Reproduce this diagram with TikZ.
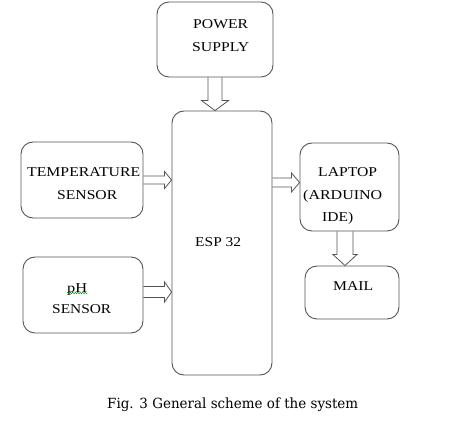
\documentclass[tikz,border=0pt]{standalone}
\usepackage{fontspec}
\setmainfont{Liberation Serif}
\newfontfamily\capfont{DejaVu Serif}
\usepackage{graphicx}
\usetikzlibrary{calc,decorations.pathmorphing}
\definecolor{edge}{HTML}{555555}
\newcommand{\fw}[2]{\resizebox{#1pt}{\height}{#2}}
\tikzset{
  box/.style={draw=edge, line width=0.9pt, rounded corners=12pt, rectangle, inner sep=0pt},
  txt/.style={anchor=base west, inner sep=0pt, font=\fontsize{13.5}{15}\selectfont},
  harrow/.style n args={3}{draw=edge, line width=0.8pt, to path={let \p1=(\tikztostart), \p2=(\tikztotarget) in
     (\x1,\y1+#1pt) -- (\x2-#3pt,\y1+#1pt) -- (\x2-#3pt,\y1+#2pt) -- (\x2,\y1) -- (\x2-#3pt,\y1-#2pt) -- (\x2-#3pt,\y1-#1pt) -- (\x1,\y1-#1pt)}},
  varrow/.style n args={3}{draw=edge, line width=0.8pt, to path={let \p1=(\tikztostart), \p2=(\tikztotarget) in
     (\x1-#1pt,\y1) -- (\x1-#1pt,\y2+#3pt) -- (\x1-#2pt,\y2+#3pt) -- (\x1,\y2) -- (\x1+#2pt,\y2+#3pt) -- (\x1+#1pt,\y2+#3pt) -- (\x1+#1pt,\y1)}},
}
\begin{document}
\begin{tikzpicture}[x=1pt,y=1pt]
\useasboundingbox (0,0) rectangle (453,421);
% boxes
\node[box, minimum width=116pt, minimum height=75pt] (ps) at (215,381.5) {};
\node[box, minimum width=100pt, minimum height=264pt] (esp) at (222,178) {};
\node[box, minimum width=122pt, minimum height=76pt] (temp) at (82,241) {};
\node[box, minimum width=120pt, minimum height=76pt] (ph) at (83,126) {};
\node[box, minimum width=99pt, minimum height=88pt] (lap) at (349.5,234) {};
\node[box, minimum width=94pt, minimum height=53pt] (mail) at (352,128.5) {};
% texts
\node[txt] (t1) at (193,392.7) {\fw{55}{POWER}};
\node[txt] (t2) at (192,369.3) {\fw{57}{SUPPLY}};
\node[txt] (t3) at (27,244) {\fw{113}{TEMPERATURE}};
\node[txt] (t4) at (57,221) {\fw{60}{SENSOR}};
\node[txt] (t5) at (67,128) {\fw{20}{pH}};
\node[txt] (t6) at (52,107) {\fw{59}{SENSOR}};
\node[txt] (t7) at (195,174) {\fw{46}{ESP 32}};
\node[txt] (t8) at (318,244.3) {\fw{59}{LAPTOP}};
\node[txt] (t9) at (303,221) {\fw{79}{(ARDUINO}};
\node[txt] (t10) at (322,199) {\fw{31}{IDE)}};
\node[txt] (t11) at (333,130.3) {\fw{40}{MAIL}};
\node[anchor=base west, inner sep=0pt, font=\capfont\fontsize{14}{16}\selectfont] (cap) at (107,13) {\fw{251}{Fig. 3 General scheme of the system}};
% spell-check squiggle under pH
\draw[green!55!black, line width=0.4pt, decorate, decoration={snake, amplitude=0.8pt, segment length=2.5pt}] (t5.base west) -- (t5.base east);
% block arrows
\draw[varrow={7}{13.5}{10}] (ps.south) to (ps.south |- esp.north);
\draw[harrow={4}{8.5}{7}] (temp.east) to (temp.east -| esp.west);
\draw[harrow={5.5}{10}{7}] ($(ph.east)+(0,3)$) to ($(ph.east -| esp.west)+(0,3)$);
\draw[harrow={4.5}{9.5}{8}] ($(esp.east |- lap.west)+(0,4.5)$) to ($(lap.west)+(0,4.5)$);
\draw[varrow={8}{12}{11}] ($(lap.south)+(-4.5,0)$) to ($(lap.south |- mail.north)+(-4.5,0)$);
\end{tikzpicture}
\end{document}
